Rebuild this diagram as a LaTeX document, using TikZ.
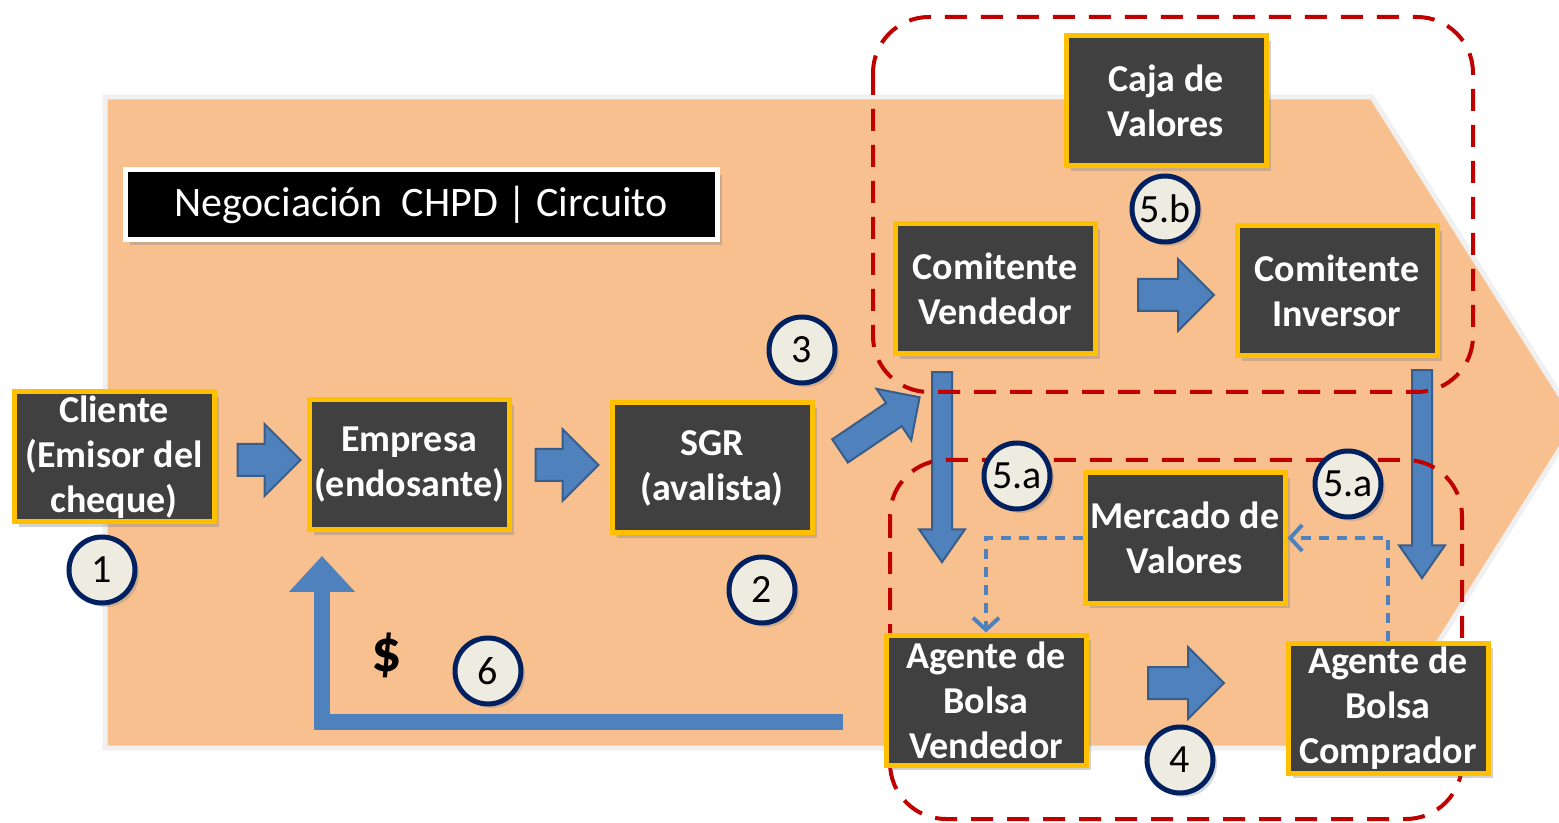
\documentclass[tikz,border=0pt]{standalone}
\usepackage{fontspec}
\setmainfont{Carlito}
\usetikzlibrary{shapes.arrows,shadows,arrows.meta}
\definecolor{peach}{RGB}{249,192,143}
\definecolor{boxgray}{RGB}{64,64,64}
\definecolor{gold}{RGB}{255,192,0}
\definecolor{badgefill}{RGB}{238,236,225}
\definecolor{navy}{RGB}{0,32,96}
\definecolor{arrowblue}{RGB}{79,129,189}
\definecolor{arrowedge}{RGB}{56,93,138}
\definecolor{darkred}{RGB}{192,0,0}
\begin{document}
\begin{tikzpicture}[x=0.5pt, y=-0.5pt,
    box/.style={rectangle, fill=boxgray, draw=gold, line width=2.5pt, minimum width=100pt,
        minimum height=65pt, inner sep=0pt, align=center, text=white,
        font=\bfseries\fontsize{19}{22.5}\selectfont,
        drop shadow={shadow xshift=2.5pt, shadow yshift=-2.5pt, opacity=0.35}},
    badge/.style={circle, fill=badgefill, draw=navy, line width=2.5pt, minimum size=33pt,
        inner sep=0pt, font=\fontsize{20}{20}\selectfont,
        drop shadow={shadow xshift=2pt, shadow yshift=-2pt, opacity=0.3}},
    fatarrow/.style={single arrow, fill=arrowblue, draw=arrowedge, line width=1pt, inner sep=0pt,
        text height=15pt, text depth=0pt, single arrow head extend=10pt, single arrow tip angle=90},
    thinarrow/.style={single arrow, fill=arrowblue, draw=arrowedge, line width=1pt, inner sep=0pt,
        text height=9pt, text depth=0pt, single arrow head extend=6.5pt, single arrow tip angle=70,
        rotate=-90},
    region/.style={draw=darkred, line width=2pt, dash pattern=on 11pt off 7pt, rounded corners=28pt},
    link/.style={draw=arrowblue, line width=2pt, dash pattern=on 5pt off 4pt,
        -{Straight Barb[length=6pt, width=13pt]}}
]
    \useasboundingbox (0,0) rectangle (1559,823);
    %% Background
    \fill[white] (0,0) rectangle (1559,823);
    \filldraw[fill=peach, draw=gray!12, line width=2.5pt]
        (105,97) -- (1372,97) -- (1577,422) -- (1372,748) -- (105,748) -- cycle;
    \node[fill=black, draw=white, line width=2.5pt, minimum width=296pt, minimum height=35pt,
        text=white, font=\fontsize{21}{21}\selectfont,
        drop shadow={shadow xshift=2.5pt, shadow yshift=-2.5pt, opacity=0.35}]
        (titulo) at (421,205) {Negociación\ \ CHPD | Circuito};

    %% Block arrows
    \node[fatarrow, minimum height=31.5pt] (a1) at (261,460) {};
    \node[fatarrow, minimum height=31.5pt] (a2) at (559,465) {};
    \node[fatarrow, minimum height=48pt, rotate=34, text height=13pt, single arrow head extend=8.5pt]
        (a3) at (874,428) {};
    \node[fatarrow, minimum height=38pt] (a4) at (1168,295) {};
    \node[fatarrow, minimum height=38pt] (a5) at (1178,683) {};
    \node[thinarrow, minimum height=95pt] (d1) at (942,460) {};
    \node[thinarrow, minimum height=104pt] (d2) at (1422,467) {};

    %% Regions
    \draw[region] (873,17) rectangle (1473,392);
    \draw[region] (890,460) rectangle (1462,819);

    %% Boxes
    \node[box] (cliente) at (114,457) {Cliente\\(Emisor del\\cheque)};
    \node[box] (empresa) at (409,465) {Empresa\\(endosante)};
    \node[box] (sgr) at (712,468) {SGR\\(avalista)};
    \node[box] (caja) at (1166,101) {Caja de\\Valores};
    \node[box] (comv) at (995,289) {Comitente\\Vendedor};
    \node[box] (comi) at (1337,291) {Comitente\\Inversor};
    \node[box] (mercado) at (1185,538) {Mercado de\\Valores};
    \node[box] (agv) at (986,700) {Agente de\\Bolsa\\Vendedor};
    \node[box] (agc) at (1388,708) {Agente de\\Bolsa\\Comprador};

    %% Links
    \draw[link] (mercado.west) -| (agv.north);
    \draw[link] (agc.north) |- (mercado.east);
    \coordinate (ret) at (843,722);
    \coordinate (retend) at (322,556);
    \draw[line width=8pt, arrowblue, -{Triangle[width=32pt, length=18pt]}] (ret) -| (retend);
    \node[font=\bfseries\fontsize{30}{30}\selectfont] (pesos) at (387,655) {\$};

    %% Badges
    \node[badge] (b1) at (102,570) {1};
    \node[badge] (b2) at (762,590) {2};
    \node[badge] (b3) at (802,350) {3};
    \node[badge] (b4) at (1180,760) {4};
    \node[badge] (b5a) at (1017,476) {5.a};
    \node[badge] (b5ar) at (1348,484) {5.a};
    \node[badge] (b5b) at (1165,209) {5.b};
    \node[badge] (b6) at (488,671) {6};
\end{tikzpicture}
\end{document}
